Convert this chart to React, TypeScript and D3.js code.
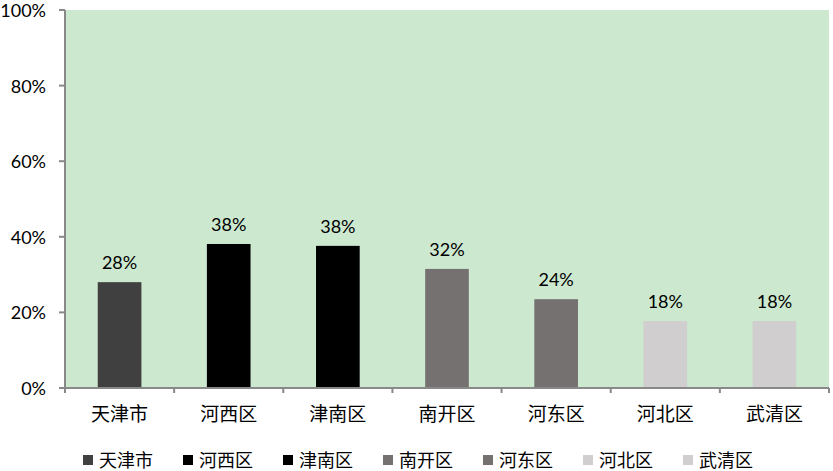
import React from "react";
import * as d3 from "d3";

const categories = ["天津市", "河西区", "津南区", "南开区", "河东区", "河北区", "武清区"];
const values = [0.28, 0.381, 0.376, 0.315, 0.235, 0.177, 0.177];
const labels = ["28%", "38%", "38%", "32%", "24%", "18%", "18%"];
const colors = ["#404040", "#000000", "#000000", "#767171", "#767171", "#d0cece", "#d0cece"];
const yTicks = [0, 0.2, 0.4, 0.6, 0.8, 1.0];

const W = 833;
const H = 471;
const margin = { left: 65, right: 4, top: 10, bottom: 83 };

export default function App() {
  const x = d3
    .scaleBand<string>()
    .domain(categories)
    .range([margin.left, W - margin.right])
    .paddingInner(0.6)
    .paddingOuter(0.3);
  const y = d3.scaleLinear().domain([0, 1]).range([H - margin.bottom, margin.top]);
  const step = x.step();
  const x0 = margin.left;
  const x1 = W - margin.right;
  const y0 = y(0);
  const numFont = "Lato, 'Liberation Sans', sans-serif";
  const cjkFont = "'Noto Sans CJK SC', sans-serif";
  const axisColor = "#898989";

  return (
    <svg
      width={W}
      height={H}
      style={{ position: "absolute", left: 0, top: 0, background: "#fff" }}
    >
      <rect x={x0} y={y(1)} width={x1 - x0} height={y0 - y(1)} fill="#cce8cf" />
      {categories.map((c, i) => (
        <rect
          key={c}
          x={x(c)!}
          y={y(values[i])}
          width={x.bandwidth()}
          height={y0 - y(values[i])}
          fill={colors[i]}
        />
      ))}
      {categories.map((c, i) => (
        <text
          key={"l" + c}
          x={x(c)! + x.bandwidth() / 2}
          y={y(values[i]) - 20}
          textAnchor="middle"
          dominantBaseline="central"
          fontFamily={numFont}
          fontSize={18}
          fill="#000"
        >
          {labels[i]}
        </text>
      ))}
      {/* y axis */}
      <line x1={x0} x2={x0} y1={y(1)} y2={y0 + 5} stroke={axisColor} strokeWidth={2} />
      {yTicks.map((t) => (
        <g key={t}>
          <line x1={x0 - 6} x2={x0} y1={y(t)} y2={y(t)} stroke={axisColor} strokeWidth={2} />
          <text
            x={46}
            y={y(t)}
            textAnchor="end"
            dominantBaseline="central"
            fontFamily={numFont}
            fontSize={18}
            fill="#000"
          >
            {d3.format(".0%")(t)}
          </text>
        </g>
      ))}
      {/* x axis */}
      <line x1={x0} x2={x1} y1={y0} y2={y0} stroke={axisColor} strokeWidth={2} />
      {d3.range(categories.length + 1).map((i) => (
        <line
          key={"t" + i}
          x1={x0 + i * step}
          x2={x0 + i * step}
          y1={y0}
          y2={y0 + 5}
          stroke={axisColor}
          strokeWidth={2}
        />
      ))}
      {categories.map((c) => (
        <text
          key={"x" + c}
          x={x(c)! + x.bandwidth() / 2}
          y={412}
          textAnchor="middle"
          dominantBaseline="central"
          fontFamily={cjkFont}
          fontSize={19}
          fill="#000"
        >
          {c}
        </text>
      ))}
      {/* legend */}
      {categories.map((c, i) => (
        <g key={"lg" + c} transform={`translate(${83 + i * 100},459)`}>
          <rect x={0} y={-4} width={10} height={10} fill={colors[i]} />
          <text
            x={16}
            y={0}
            dominantBaseline="central"
            fontFamily={cjkFont}
            fontSize={18}
            fill="#000"
          >
            {c}
          </text>
        </g>
      ))}
    </svg>
  );
}
